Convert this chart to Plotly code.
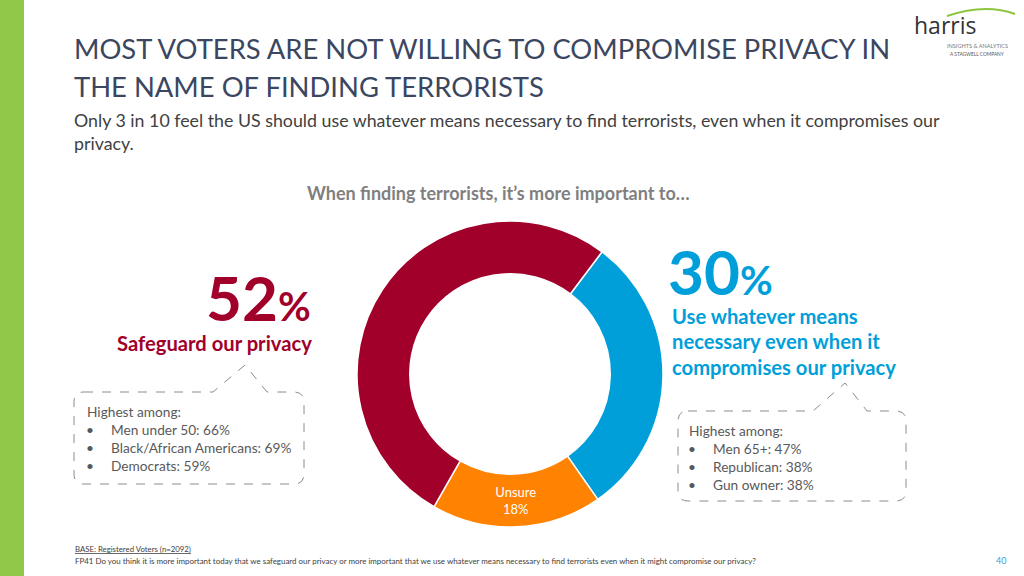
import plotly.graph_objects as go

# ---- data ----
labels = ["Use whatever means necessary", "Unsure", "Safeguard our privacy"]
values = [30, 18, 52]
slice_text = ["", "Unsure<br>18%", ""]
colors = ["#009FDA", "#FF8300", "#A1002B"]

title_lines = ["MOST VOTERS ARE NOT WILLING TO COMPROMISE PRIVACY IN",
               "THE NAME OF FINDING TERRORISTS"]
subtitle_lines = ["Only 3 in 10 feel the US should use whatever means necessary to find terrorists, even when it compromises our",
                  "privacy."]
question_header = "When finding terrorists, it\u2019s more important to\u2026"
left_pct = "52"
left_label = "Safeguard our privacy"
right_pct = "30"
right_label_lines = ["Use whatever means", "necessary even when it", "compromises our privacy"]
left_box = ["Men under 50: 66%", "Black/African Americans: 69%", "Democrats: 59%"]
right_box = ["Men 65+: 47%", "Republican: 38%", "Gun owner: 38%"]
base_note = "BASE: Registered Voters (n=2092)"
question_note = ("FP41 Do you think it is more important today that we safeguard our privacy or more important "
                 "that we use whatever means necessary to find terrorists even when it might compromise our privacy?")
page_no = "40"

W, H = 1024, 576
FONT = "Lato"


def px(x):
    return x / W


def py(y):
    return 1 - y / H


fig = go.Figure()
fig.add_trace(go.Pie(
    labels=labels, values=values, text=slice_text,
    textinfo="text", textposition="inside", insidetextorientation="horizontal",
    sort=False, direction="clockwise", rotation=37, hole=0.655,
    marker=dict(colors=colors, line=dict(color="white", width=1.5)),
    textfont=dict(family=FONT, size=13, color="white"),
    hoverinfo="skip", showlegend=False,
    domain=dict(x=[px(357), px(663)], y=[py(527), py(221)]),
))

ann = []


def add(text, x, y, size, color, xanchor="left", yanchor="middle", bold=False, family=FONT):
    ann.append(dict(text=("<b>%s</b>" % text) if bold else text, x=px(x), y=py(y),
                    xref="paper", yref="paper", showarrow=False, xanchor=xanchor,
                    yanchor=yanchor, align=xanchor if xanchor != "center" else "center",
                    font=dict(family=family, size=size, color=color), borderpad=0))


# titles
add(title_lines[0], 73, 48, 27.4, "#3B4660")
add(title_lines[1], 73, 87, 27.4, "#3B4660")
add(subtitle_lines[0], 73, 120, 17.8, "#404040")
add(subtitle_lines[1], 73, 143, 17.8, "#404040")
add(question_header, 498, 193, 18, "#7F7F7F", xanchor="center", bold=True)

# left big number
ann.append(dict(text="<b>%s</b><b><span style='font-size:40px'>%%</span></b>" % left_pct,
                x=px(312), y=py(335), xref="paper", yref="paper", showarrow=False,
                xanchor="right", yanchor="bottom", font=dict(family=FONT, size=62, color="#A1002B"),
                borderpad=0))
add(left_label, 313, 343, 20.2, "#A1002B", xanchor="right", bold=True)

# right big number
ann.append(dict(text="<b>%s</b><b><span style='font-size:40px'>%%</span></b>" % right_pct,
                x=px(667), y=py(309), xref="paper", yref="paper", showarrow=False,
                xanchor="left", yanchor="bottom", font=dict(family=FONT, size=62, color="#009FDA"),
                borderpad=0))
for i, t in enumerate(right_label_lines):
    add(t, 671, 316 + i * 25.3, 20.2, "#009FDA", bold=True)

# callout texts
add("Highest among:", 86, 411, 13.7, "#595959")
for i, t in enumerate(left_box):
    add("\u2022", 85, 429 + i * 18, 13.7, "#595959")
    add(t, 110, 429 + i * 18, 13.7, "#595959")
add("Highest among:", 688, 430, 13.7, "#595959")
for i, t in enumerate(right_box):
    add("\u2022", 687, 448 + i * 18, 13.7, "#595959")
    add(t, 712, 448 + i * 18, 13.7, "#595959")

# footnotes
add("<u>%s</u>" % base_note, 74, 549, 7.8, "#404040")
add(question_note, 74, 561, 7.95, "#404040")
add(page_no, 1001, 560, 9, "#3A9FD8", xanchor="center")

# logo
add("harris", 945, 25, 23, "#333333", xanchor="center", family="Open Sans")
add("INSIGHTS &amp; ANALYTICS", 977, 45, 5.6, "#777777", xanchor="center")
add("A STAGWELL COMPANY", 977, 54, 4.8, "#555555", xanchor="center")

shapes = []
# green side bar
shapes.append(dict(type="rect", xref="paper", yref="paper", x0=0, x1=px(24), y0=0, y1=1,
                   fillcolor="#92C84A", line=dict(width=0), layer="below"))
# logo arc
shapes.append(dict(type="path", xref="paper", yref="paper",
                   path="M %f %f Q %f %f %f %f" % (px(947), py(16), px(985), py(3), px(1015), py(14)),
                   line=dict(color="#8DC63F", width=2)))


def callout(x0, y0, x1, y1, tx0, tpeak, tx1, peak_y, r=10):
    pts = [
        ("M", x0 + r, y0), ("L", tx0, y0), ("L", tpeak, peak_y), ("L", tx1, y0), ("L", x1 - r, y0),
        ("Q", x1, y0, x1, y0 + r), ("L", x1, y1 - r), ("Q", x1, y1, x1 - r, y1),
        ("L", x0 + r, y1), ("Q", x0, y1, x0, y1 - r), ("L", x0, y0 + r), ("Q", x0, y0, x0 + r, y0),
    ]
    s = []
    for p in pts:
        cmd = p[0]
        coords = p[1:]
        seg = cmd
        for j in range(0, len(coords), 2):
            seg += " %f,%f" % (px(coords[j]), py(coords[j + 1]))
        s.append(seg)
    return dict(type="path", xref="paper", yref="paper", path=" ".join(s) + " Z",
                line=dict(color="#8C8C8C", width=1, dash="dash"))


shapes.append(callout(74, 392, 304, 484, 213, 245, 267, 365))
shapes.append(callout(678, 411, 906, 501, 813, 845, 867, 383))

fig.update_layout(
    width=W, height=H, margin=dict(l=0, r=0, t=0, b=0),
    paper_bgcolor="white", plot_bgcolor="white",
    annotations=ann, shapes=shapes, showlegend=False,
)
fig.write_html("out.html", config={"displayModeBar": False},
               post_script="document.body.style.margin='0';document.body.style.padding='0';")
